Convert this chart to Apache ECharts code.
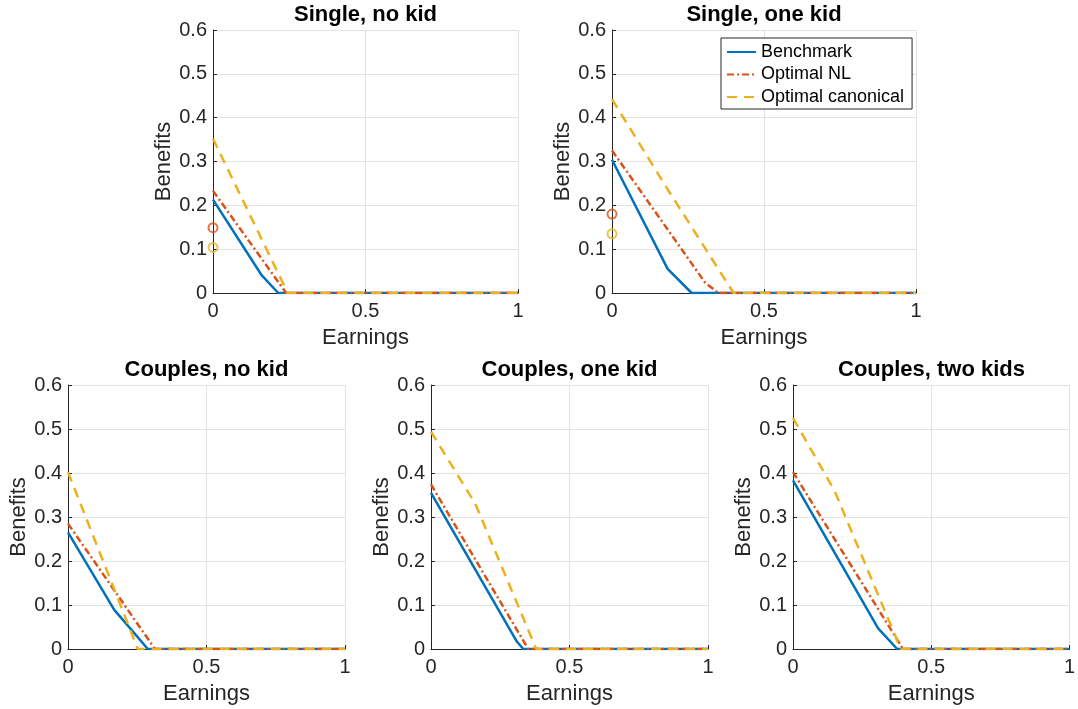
<!DOCTYPE html>
<html><head><meta charset="utf-8">
<script src="https://cdn.jsdelivr.net/npm/echarts@6/dist/echarts.min.js"></script>
<style>html,body{margin:0;padding:0;background:#fff}#c{width:1078px;height:709px}</style>
</head><body><div id="c"></div>
<script>
const titles = ['Single, no kid','Single, one kid','Couples, no kid','Couples, one kid','Couples, two kids'];
const seriesNames = ['Benchmark','Optimal NL','Optimal canonical'];
const xTickLabels = [0, 0.5, 1];
const yTickLabels = [0, 0.1, 0.2, 0.3, 0.4, 0.5, 0.6];

const benchSingleNoKid = [[0,0.213],[0.16,0.04],[0.214,0],[1,0]];
const nlSingleNoKid    = [[0,0.233],[0.24,0],[1,0]];
const canSingleNoKid   = [[0,0.352],[0.245,0],[1,0]];

const benchSingleOneKid = [[0,0.304],[0.183,0.055],[0.262,0],[1,0]];
const nlSingleOneKid    = [[0,0.325],[0.306,0.024],[0.35,0],[1,0]];
const canSingleOneKid   = [[0,0.442],[0.18,0.24],[0.40,0],[1,0]];

const benchCouplesNoKid = [[0,0.265],[0.167,0.089],[0.23,0.043],[0.288,0],[1,0]];
const nlCouplesNoKid    = [[0,0.285],[0.314,0],[1,0]];
const canCouplesNoKid   = [[0,0.402],[0.252,0],[1,0]];

const benchCouplesOneKid = [[0,0.355],[0.31,0.017],[0.333,0],[1,0]];
const nlCouplesOneKid    = [[0,0.374],[0.351,0],[1,0]];
const canCouplesOneKid   = [[0,0.494],[0.16,0.33],[0.38,0],[1,0]];

const benchCouplesTwoKids = [[0,0.383],[0.308,0.047],[0.377,0],[1,0]];
const nlCouplesTwoKids    = [[0,0.402],[0.398,0],[1,0]];
const canCouplesTwoKids   = [[0,0.525],[0.15,0.36],[0.39,0],[1,0]];

// hollow circle markers at zero earnings (single households)
const nlPointSingleNoKid  = [[0,0.149]];
const canPointSingleNoKid = [[0,0.104]];
const nlPointSingleOneKid  = [[0,0.18]];
const canPointSingleOneKid = [[0,0.135]];

const panels = [
  {b:benchSingleNoKid, n:nlSingleNoKid, c:canSingleNoKid, pn:nlPointSingleNoKid, pc:canPointSingleNoKid},
  {b:benchSingleOneKid, n:nlSingleOneKid, c:canSingleOneKid, pn:nlPointSingleOneKid, pc:canPointSingleOneKid},
  {b:benchCouplesNoKid, n:nlCouplesNoKid, c:canCouplesNoKid},
  {b:benchCouplesOneKid, n:nlCouplesOneKid, c:canCouplesOneKid},
  {b:benchCouplesTwoKids, n:nlCouplesTwoKids, c:canCouplesTwoKids}
];

const boxes = [
  {left:213, top:30, width:305, height:263},
  {left:612, top:30, width:304, height:263},
  {left:68,  top:385, width:277, height:264},
  {left:431, top:385, width:277, height:264},
  {left:793, top:385, width:277, height:264}
];

const BLUE='#0072BD', RED='#D95319', YEL='#EDB120', AX='#262626', FONT='"Liberation Sans", Arial, sans-serif';

const grid=[], xAxis=[], yAxis=[], title=[], series=[];
boxes.forEach((b,i)=>{
  grid.push({left:b.left, top:b.top, width:b.width, height:b.height, containLabel:false});
  title.push({text:titles[i], left:b.left+b.width/2, top:b.top-26, textAlign:'center', padding:0,
    textStyle:{fontFamily:FONT, fontSize:22, fontWeight:'bold', color:'#000'}});
  xAxis.push({type:'value', gridIndex:i, min:0, max:1, interval:0.5,
    name:'Earnings', nameLocation:'middle', nameGap:34,
    nameTextStyle:{fontFamily:FONT, fontSize:22, color:AX},
    axisLine:{show:true, lineStyle:{color:AX, width:1}},
    axisTick:{show:true, inside:true, length:4, lineStyle:{color:AX}},
    axisLabel:{fontFamily:FONT, fontSize:20, color:AX, margin:8,
      formatter:v=>xTickLabels.includes(v)?String(v):''},
    splitLine:{show:true, lineStyle:{color:'#e3e3e3', width:1}}});
  yAxis.push({type:'value', gridIndex:i, min:0, max:0.6, interval:0.1,
    name:'Benefits', nameLocation:'middle', nameGap:33,
    nameTextStyle:{fontFamily:FONT, fontSize:22, color:AX},
    axisLine:{show:true, lineStyle:{color:AX, width:1}},
    axisTick:{show:true, inside:true, length:4, lineStyle:{color:AX}},
    axisLabel:{fontFamily:FONT, fontSize:20, color:AX, margin:6,
      formatter:v=>{const r=Math.round(v*10)/10; return yTickLabels.includes(r)?String(r):'';}},
    splitLine:{show:true, lineStyle:{color:'#e3e3e3', width:1}}});
  const p=panels[i];
  series.push({name:seriesNames[0], type:'line', xAxisIndex:i, yAxisIndex:i, data:p.b, symbol:'none',
    lineStyle:{color:BLUE, width:2.5}, itemStyle:{color:BLUE}, z:3, animation:false});
  series.push({name:seriesNames[1], type:'line', xAxisIndex:i, yAxisIndex:i, data:p.n, symbol:'none',
    lineStyle:{color:RED, width:2.5, type:[7,3,2,3]}, itemStyle:{color:RED}, z:4, animation:false});
  series.push({name:seriesNames[2], type:'line', xAxisIndex:i, yAxisIndex:i, data:p.c, symbol:'none',
    lineStyle:{color:YEL, width:2.5, type:[10,7]}, itemStyle:{color:YEL}, z:5, animation:false});
  if(p.pn){
    series.push({type:'scatter', xAxisIndex:i, yAxisIndex:i, data:p.pn, symbol:'circle', symbolSize:9,
      itemStyle:{color:'rgba(0,0,0,0)', borderColor:RED, borderWidth:2}, z:6, animation:false, silent:true});
    series.push({type:'scatter', xAxisIndex:i, yAxisIndex:i, data:p.pc, symbol:'circle', symbolSize:9,
      itemStyle:{color:'rgba(0,0,0,0)', borderColor:YEL, borderWidth:2}, z:6, animation:false, silent:true});
  }
});

const chart = echarts.init(document.getElementById('c'), null, {renderer:'canvas'});
chart.setOption({
  backgroundColor:'#fff',
  animation:false,
  title, grid, xAxis, yAxis, series,
  legend:{data:seriesNames, orient:'vertical', left:721, top:38, itemWidth:29, itemHeight:14, itemGap:4.5,
    itemStyle:{color:'rgba(0,0,0,0)', borderWidth:0, opacity:0},
    backgroundColor:'#fff', borderColor:AX, borderWidth:1, padding:[5,8,3,5], borderRadius:0,
    textStyle:{fontFamily:FONT, fontSize:18, color:'#000'}}
});
</script></body></html>
